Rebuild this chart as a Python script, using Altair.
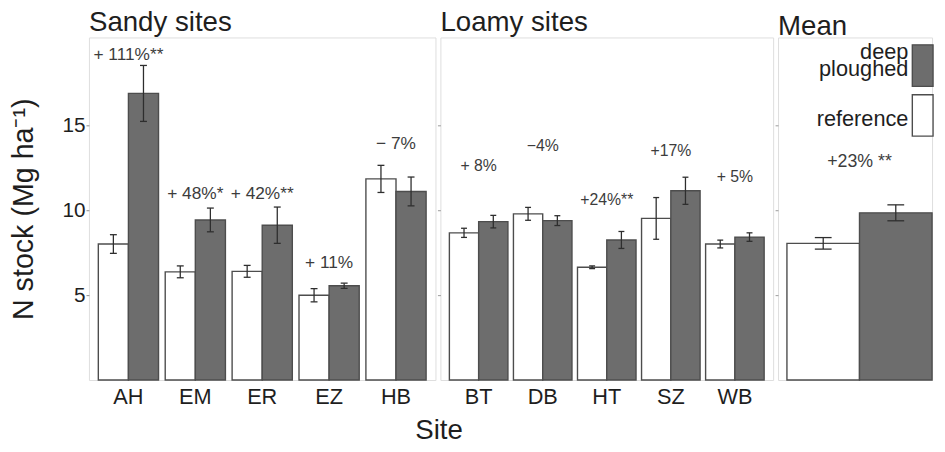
import altair as alt
import pandas as pd

FONT = "Liberation Sans"
TXT = "#1e1e1e"
ANN = "#3c3c3c"
DEEP = "#6d6d6d"
REF = "#ffffff"
EDGE = "#4d4d4d"
ERR = "#2e2e2e"
FRAME = "#a6a6a6"

treatments_order = ["reference", "deep ploughed"]
legend_order = ["deep ploughed", "reference"]

# ---- Sandy sites ----
sandy_sites = ["AH", "EM", "ER", "EZ", "HB"]
sandy_ref = [8.02, 6.38, 6.41, 5.00, 11.86]
sandy_ref_err = [0.55, 0.35, 0.35, 0.39, 0.80]
sandy_deep = [16.90, 9.44, 9.13, 5.56, 11.12]
sandy_deep_err = [1.65, 0.70, 1.07, 0.15, 0.85]
sandy_labels = ["+ 111%**", "+ 48%*", "+ 42%**", "+ 11%", "\u2212 7%"]
sandy_label_y = [19.16, 10.99, 10.99, 6.92, 13.90]

# ---- Loamy sites ----
loamy_sites = ["BT", "DB", "HT", "SZ", "WB"]
loamy_ref = [8.68, 9.80, 6.65, 9.53, 8.02]
loamy_ref_err = [0.27, 0.38, 0.08, 1.23, 0.23]
loamy_deep = [9.34, 9.40, 8.26, 11.16, 8.43]
loamy_deep_err = [0.37, 0.29, 0.50, 0.80, 0.25]
loamy_labels = ["+ 8%", "\u22124%", "+24%**", "+17%", "+ 5%"]
loamy_label_y = [12.62, 13.78, 10.64, 13.49, 11.98]

# ---- Mean ----
mean_sites = ["Mean"]
mean_ref = [8.06]
mean_ref_err = [0.34]
mean_deep = [9.86]
mean_deep_err = [0.47]
mean_labels = ["+23% **"]
mean_label_y = [12.88]

y_ticks = [5, 10, 15]
y_domain = [0, 20.2]
PANEL_H = 347

# legend swatch: a tall rectangle (the left half of the square swatch, cut at the image edge)
SWATCH = "M-1,-0.667H1V3.333H-1Z"


def make_df(sites, ref, ref_err, deep, deep_err):
    rows = []
    for s, r, re_, d, de in zip(sites, ref, ref_err, deep, deep_err):
        rows.append({"site": s, "treatment": "reference", "value": r, "lo": r - re_, "hi": r + re_})
        rows.append({"site": s, "treatment": "deep ploughed", "value": d, "lo": d - de, "hi": d + de})
    return pd.DataFrame(rows)


def panel(sites, ref, ref_err, deep, deep_err, labels, label_y, title, width,
          x_scale, cap, title_offset, title_dy, ann_size, y_axis, x_axis, legend_c):
    df = make_df(sites, ref, ref_err, deep, deep_err)
    ann = pd.DataFrame({"site": sites, "label": labels, "ypos": label_y})
    x = alt.X("site:N", sort=sites, scale=x_scale, axis=x_axis)
    xo = alt.XOffset("treatment:N", sort=treatments_order,
                     scale=alt.Scale(paddingInner=0, paddingOuter=0))
    yscale = alt.Scale(domain=y_domain, nice=False, zero=False)
    color = alt.Color("treatment:N",
                      scale=alt.Scale(domain=legend_order, range=[DEEP, REF]),
                      legend=legend_c)
    base = alt.Chart(df)
    bars = base.mark_bar(stroke=EDGE, strokeWidth=1.4, opacity=1).encode(
        x=x, xOffset=xo, y=alt.Y("value:Q", scale=yscale, axis=y_axis), color=color)
    err = base.mark_rule(color=ERR, strokeWidth=1.3).encode(
        x=x, xOffset=xo, y=alt.Y("lo:Q", scale=yscale, axis=y_axis), y2="hi:Q")
    cap_lo = base.mark_tick(color=ERR, size=cap, thickness=1.3, opacity=1).encode(
        x=x, xOffset=xo, y=alt.Y("lo:Q", scale=yscale, axis=y_axis))
    cap_hi = base.mark_tick(color=ERR, size=cap, thickness=1.3, opacity=1).encode(
        x=x, xOffset=xo, y=alt.Y("hi:Q", scale=yscale, axis=y_axis))
    txt = alt.Chart(ann).mark_text(fontSize=ann_size, font=FONT, color=ANN).encode(
        x=x, y=alt.Y("ypos:Q", scale=yscale, axis=y_axis), text="label:N")
    return alt.layer(bars, err, cap_lo, cap_hi, txt).properties(
        width=width, height=PANEL_H,
        title=alt.TitleParams(title, anchor="start", frame="group", fontSize=28,
                              fontWeight="normal", font=FONT, color=TXT,
                              offset=title_offset, dy=title_dy))


y_axis_main = alt.Axis(title="N stock (Mg ha\u207b\u00b9)", values=y_ticks, grid=False, domain=False,
                       tickSize=3, tickColor="#888888", labelFontSize=21, labelFont=FONT,
                       labelColor=TXT, labelPadding=1, titleFontSize=29, titleFont=FONT,
                       titleFontWeight="normal", titleColor=TXT, titlePadding=24)
y_axis_plain = alt.Axis(title=None, labels=False, values=y_ticks, grid=False, domain=False,
                        tickSize=3, tickColor="#999999")

x_axis_plain = alt.Axis(title=None, labelAngle=0, ticks=False, domain=False, labelFontSize=22,
                        labelFont=FONT, labelColor=TXT, labelPadding=7)
x_axis_site = alt.Axis(title="Site", labelAngle=0, ticks=False, domain=False, labelFontSize=22,
                       labelFont=FONT, labelColor=TXT, labelPadding=7,
                       titleFontSize=28, titleFont=FONT, titleFontWeight="normal", titleColor=TXT,
                       titleAnchor="start", titleAlign="left", titleBaseline="alphabetic",
                       titleX=-26, titleY=59)
x_axis_none = alt.Axis(title=None, labels=False, ticks=False, domain=False)

legend = alt.Legend(title=None, orient="none", legendX=135, legendY=3,
                    symbolType=SWATCH, symbolSize=441, symbolStrokeColor=EDGE,
                    symbolStrokeWidth=1.4, symbolOpacity=1,
                    labelFontSize=22, labelFont=FONT, labelColor=TXT, labelAlign="right",
                    labelOffset={"expr": "-26"}, labelLimit=0, rowPadding=0.5,
                    labelExpr="datum.label == 'deep ploughed' ? ['deep', 'ploughed'] : ['', datum.label]")

sandy = panel(sandy_sites, sandy_ref, sandy_ref_err, sandy_deep, sandy_deep_err,
              sandy_labels, sandy_label_y, "Sandy sites", 351,
              alt.Scale(paddingInner=0.10, paddingOuter=0.14), 7, 1, 0, 17.5,
              y_axis_main, x_axis_plain, None)
loamy = panel(loamy_sites, loamy_ref, loamy_ref_err, loamy_deep, loamy_deep_err,
              loamy_labels, loamy_label_y, "Loamy sites", 337,
              alt.Scale(paddingInner=0.086, paddingOuter=0.14), 6, 1, 0, 16,
              y_axis_plain, x_axis_site, None)
mean = panel(mean_sites, mean_ref, mean_ref_err, mean_deep, mean_deep_err,
             mean_labels, mean_label_y, "Mean", 156,
             alt.Scale(paddingInner=0, paddingOuter=0.0306, align=1), 17, 1, 5, 18,
             y_axis_plain, x_axis_none, legend)

chart = alt.hconcat(sandy, loamy, mean, spacing=5, bounds="flush").resolve_scale(
    color="independent", xOffset="independent"
).resolve_legend(color="independent").properties(
    padding={"left": 1, "top": -3, "right": 0, "bottom": 0}
).configure_view(stroke=FRAME, strokeWidth=1.5).configure(
    font=FONT, style={"guide-label": {"lineHeight": 18}}
)

chart.save("out.html", embed_options={"renderer": "svg", "actions": False})
